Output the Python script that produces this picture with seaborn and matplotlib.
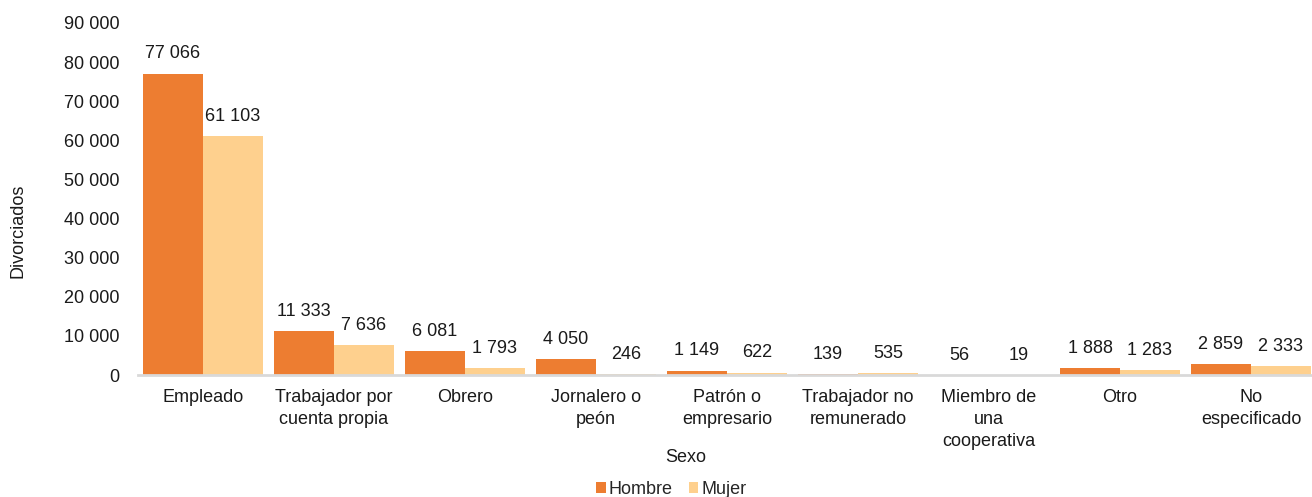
import matplotlib
matplotlib.use('Agg')
import matplotlib.pyplot as plt
import seaborn as sns
import pandas as pd

# Data
categories = ['Empleado', 'Trabajador por\ncuenta propia', 'Obrero', 'Jornalero o\npeón',
              'Patrón o\nempresario', 'Trabajador no\nremunerado', 'Miembro de\nuna\ncooperativa',
              'Otro', 'No\nespecificado']
hombre = [77066, 11333, 6081, 4050, 1149, 139, 56, 1888, 2859]
mujer = [61103, 7636, 1793, 246, 622, 535, 19, 1283, 2333]
y_ticks = [0, 10000, 20000, 30000, 40000, 50000, 60000, 70000, 80000, 90000]

df = pd.DataFrame({
    'Categoria': categories * 2,
    'Divorciados': hombre + mujer,
    'Sexo': ['Hombre'] * len(categories) + ['Mujer'] * len(categories),
})

def fmt(v):
    return f'{v:,.0f}'.replace(',', ' ')

sns.set_theme(style='white')
plt.rcParams['font.family'] = ['Liberation Sans', 'DejaVu Sans']
plt.rcParams['font.size'] = 13

fig = plt.figure(figsize=(13.12, 4.97), dpi=100)
ax = fig.add_axes([137.5 / 1312, 1 - 375 / 497, 1179 / 1312, 352 / 497])

sns.barplot(data=df, x='Categoria', y='Divorciados', hue='Sexo',
            palette={'Hombre': '#ED7D31', 'Mujer': '#FED08E'},
            width=0.916, gap=0, saturation=1, errorbar=None, ax=ax, legend=True,
            linewidth=0)

for cont in ax.containers:
    ax.bar_label(cont, labels=[fmt(v) for v in cont.datavalues], padding=8,
                 fontsize=13, color='#1a1a1a')

ax.set_ylim(0, 90000)
ax.set_yticks(y_ticks)
ax.set_yticklabels([fmt(t) for t in y_ticks])
ax.tick_params(axis='y', length=0, pad=13, labelsize=13, labelcolor='#1a1a1a')
ax.tick_params(axis='x', length=0, pad=10, labelsize=13, labelcolor='#1a1a1a')
for lbl in ax.get_xticklabels():
    lbl.set_linespacing(1.4)
for s in ['top', 'right', 'left']:
    ax.spines[s].set_visible(False)
ax.spines['bottom'].set_color('#D9D9D9')
ax.spines['bottom'].set_linewidth(2)
ax.set_xlabel('')
ax.set_ylabel('')

fig.text(18 / 1312, 1 - 231 / 497, 'Divorciados', rotation=90, ha='center', va='center',
         fontsize=13, color='#1a1a1a')
fig.text(686 / 1312, 1 - 458 / 497, 'Sexo', ha='center', va='center', fontsize=13,
         color='#1a1a1a')

handles, labels = ax.get_legend_handles_labels()
ax.get_legend().remove()
fig.legend(handles, labels, loc='center', bbox_to_anchor=(671 / 1312, 1 - 489 / 497),
           ncol=2, frameon=False, fontsize=13, handlelength=0.55, handleheight=0.55,
           handletextpad=0.15, columnspacing=0.9, borderpad=0)

fig.savefig('out.png', dpi=100)
